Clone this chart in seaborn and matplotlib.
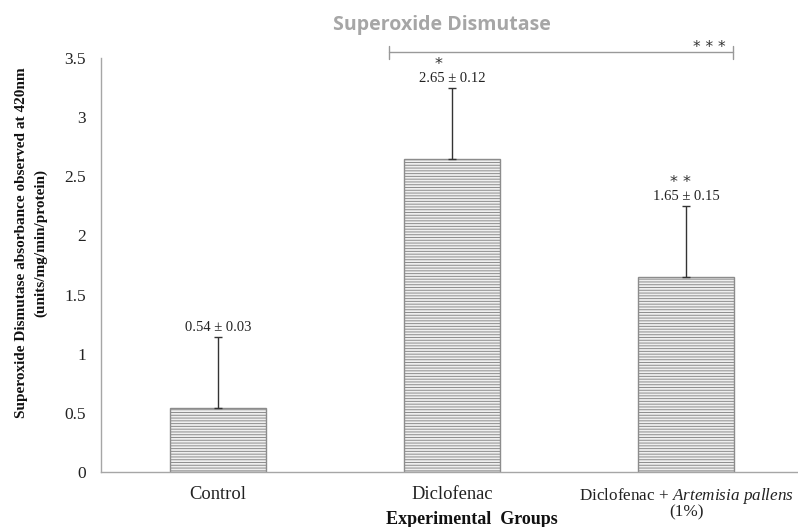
import matplotlib
matplotlib.use("Agg")
import matplotlib.pyplot as plt
import seaborn as sns
import pandas as pd

# ---- data ----
groups = ["Control", "Diclofenac", "Diclofenac + Artemisia pallens (1%)"]
tick_labels = ["Control", "Diclofenac",
               "Diclofenac + $\\it{Artemisia\\ pallens}$\n(1%)"]
means = [0.54, 2.65, 1.65]
err_upper = [0.6, 0.6, 0.6]
value_labels = ["0.54 \u00b1 0.03", "2.65 \u00b1 0.12", "1.65 \u00b1 0.15"]
sig_marks = ["", "*", "* *"]
bracket_text = "* * *"
yticks = [0, 0.5, 1, 1.5, 2, 2.5, 3, 3.5]
ytick_labels = ["0", "0.5", "1", "1.5", "2", "2.5", "3", "3.5"]

sns.set_theme(style="white")
plt.rcParams["font.family"] = ["Liberation Serif", "DejaVu Serif"]
plt.rcParams["mathtext.fontset"] = "custom"
plt.rcParams["mathtext.it"] = "Liberation Serif:italic"
plt.rcParams["mathtext.rm"] = "Liberation Serif"
plt.rcParams["hatch.color"] = "#8c8c8c"
plt.rcParams["hatch.linewidth"] = 0.7

W, H = 798, 527
fig = plt.figure(figsize=(W / 100, H / 100), dpi=100)
ax = fig.add_axes([101 / W, 55 / H, 696 / W, 414 / H])

df = pd.DataFrame({"group": groups, "value": means})
sns.barplot(data=df, x="group", y="value", ax=ax, color="#efefef",
            saturation=1, width=0.41, edgecolor="#8c8c8c", linewidth=1.0,
            hatch="------", errorbar=None)

xpos = list(range(len(groups)))
ax.errorbar(xpos, means, yerr=[[0] * len(means), err_upper], fmt="none",
            ecolor="#333333", elinewidth=1.0, capsize=3, capthick=1.0)

for i, (m, e, lab, sig) in enumerate(zip(means, err_upper, value_labels, sig_marks)):
    top = m + e
    ax.annotate(lab, (i, top), xytext=(0, 2), textcoords="offset points",
                ha="center", va="bottom", fontsize=10.5, color="#222222")
    if sig:
        ax.annotate(sig, (i, top), xytext=(-10 if len(sig) == 1 else -4, 11.5),
                    textcoords="offset points", ha="center", va="bottom",
                    fontsize=11.5, family=["DejaVu Sans"], color="#333333")

# significance bracket
bx0, bx1, by = 0.73, 2.2, 3.55
ax.plot([bx0, bx1], [by, by], color="#999999", lw=1.0, clip_on=False)
for bx in (bx0, bx1):
    ax.plot([bx, bx], [by - 0.055, by + 0.055], color="#999999", lw=1.0, clip_on=False)
ax.annotate(bracket_text, (2.1, by), xytext=(0, -2), textcoords="offset points",
            ha="center", va="bottom", fontsize=11, family=["DejaVu Sans"],
            color="#333333", annotation_clip=False)

ax.set_xlim(-0.5, -0.5 + 696 / 234)
ax.set_ylim(0, 3.5)
ax.set_yticks(yticks)
ax.set_yticklabels(ytick_labels, fontsize=12.5, color="#222222")
ax.set_xticks(xpos)
xt = ax.set_xticklabels(tick_labels, fontsize=13.3, color="#222222")
xt[2].set_fontsize(12.3)
xt[2].set_linespacing(0.9)
ax.tick_params(axis="y", length=0, pad=11)
ax.tick_params(axis="x", length=0, pad=10)

for s in ("top", "right"):
    ax.spines[s].set_visible(False)
for s in ("left", "bottom"):
    ax.spines[s].set_color("#a6a6a6")
    ax.spines[s].set_linewidth(1.0)

ax.set_xlabel("")
ax.set_ylabel("")
fig.text(472 / W, 1 - 519 / H, "Experimental  Groups", ha="center", va="center",
         fontsize=13, fontweight="bold", color="#111111")
fig.text(31 / W, 1 - 243 / H,
         "Superoxide Dismutase absorbance observed at 420nm\n(units/mg/min/protein)",
         rotation=90, ha="center", va="center", fontsize=11, fontweight="bold",
         linespacing=1.6, color="#111111")
fig.text(442 / W, 1 - 25 / H, "Superoxide Dismutase", ha="center", va="center",
         fontsize=14, fontweight="bold", family=["Open Sans", "DejaVu Sans"],
         color="#a6a6a6")

fig.savefig("out.png", dpi=100)
